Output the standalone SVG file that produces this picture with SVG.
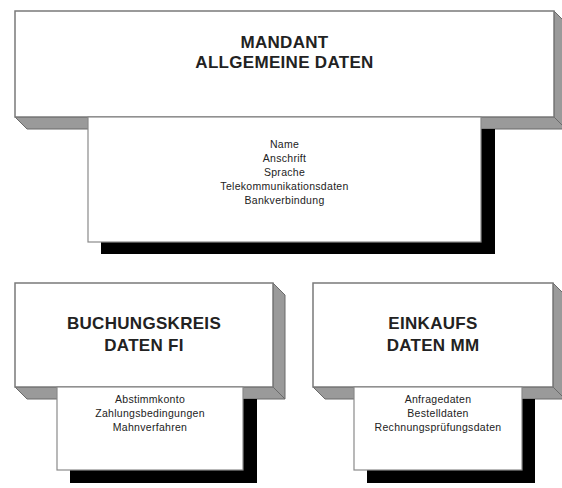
<svg xmlns="http://www.w3.org/2000/svg" width="562" height="488" viewBox="0 0 562 488">
<style>
.front{fill:#ffffff;stroke:#7a7a7a;stroke-width:1.5}
.side{fill:#9a9a9a;stroke:#6a6a6a;stroke-width:1}
.card{fill:#ffffff;stroke:#8a8a8a;stroke-width:1.2}
.shadow{fill:#000000}
.title{font-family:"Liberation Sans",Arial,sans-serif;font-weight:bold;font-size:17px;fill:#222;text-anchor:middle;letter-spacing:0.3px}
.item{font-family:"Liberation Sans",Arial,sans-serif;font-size:10.5px;fill:#222;text-anchor:middle;letter-spacing:0.3px}
</style>
<rect width="562" height="488" fill="#ffffff"/>
<g id="mandant">
<polygon class="side" points="554,11 566,23 566,129 554,117"/>
<polygon class="side" points="15,117 554,117 566,129 27,129"/>
<rect class="front" x="15" y="11" width="539" height="106"/>
<text class="title" x="284.5" y="48">MANDANT</text>
<text class="title" x="284.5" y="68">ALLGEMEINE DATEN</text>
<rect class="shadow" x="101" y="129" width="394" height="125"/>
<rect class="card" x="88" y="117" width="393" height="125"/>
<text class="item" x="284.5" y="148">Name</text>
<text class="item" x="284.5" y="162">Anschrift</text>
<text class="item" x="284.5" y="176">Sprache</text>
<text class="item" x="284.5" y="190">Telekommunikationsdaten</text>
<text class="item" x="284.5" y="204">Bankverbindung</text>
</g>
<g id="buchungskreis">
<polygon class="side" points="273,283 285,295 285,399 273,387"/>
<polygon class="side" points="15,387 273,387 285,399 27,399"/>
<rect class="front" x="15" y="283" width="258" height="104"/>
<text class="title" x="144" y="329">BUCHUNGSKREIS</text>
<text class="title" x="144" y="351">DATEN FI</text>
<rect class="shadow" x="70" y="399" width="187" height="84"/>
<rect class="card" x="57" y="387" width="186" height="83"/>
<text class="item" x="150" y="403">Abstimmkonto</text>
<text class="item" x="150" y="417">Zahlungsbedingungen</text>
<text class="item" x="150" y="431">Mahnverfahren</text>
</g>
<g id="einkauf">
<polygon class="side" points="553,283 565,295 565,399 553,387"/>
<polygon class="side" points="313,387 553,387 565,399 325,399"/>
<rect class="front" x="313" y="283" width="240" height="104"/>
<text class="title" x="433" y="329">EINKAUFS</text>
<text class="title" x="433" y="351">DATEN MM</text>
<rect class="shadow" x="367" y="399" width="168" height="84"/>
<rect class="card" x="354" y="387" width="168" height="83"/>
<text class="item" x="438" y="403">Anfragedaten</text>
<text class="item" x="438" y="417">Bestelldaten</text>
<text class="item" x="438" y="431">Rechnungsprüfungsdaten</text>
</g>
<g id="connectors"/>
</svg>
